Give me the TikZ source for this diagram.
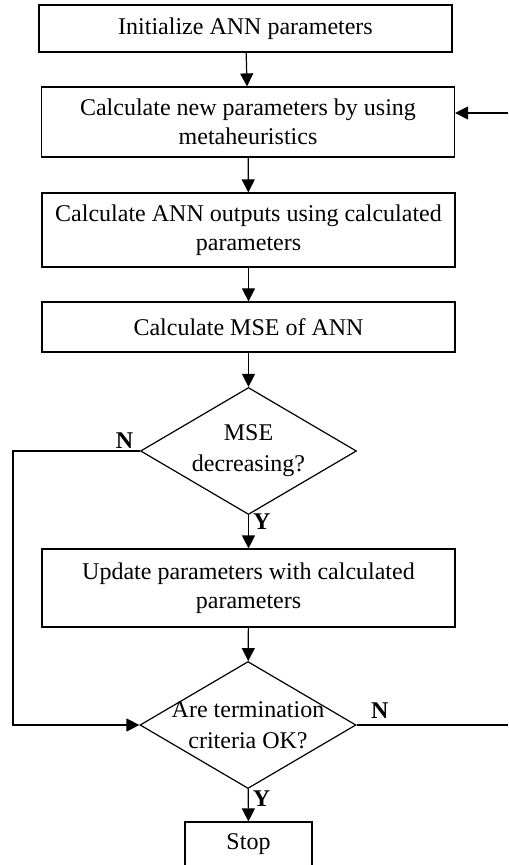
\documentclass[tikz,border=0pt]{standalone}
\usepackage{fontspec}
\setmainfont{Liberation Serif}
\usetikzlibrary{shapes.geometric,arrows.meta}

\tikzset{
	box/.style={draw, line width=0.6pt, align=center, inner sep=0pt,
		font=\fontsize{12}{14.5}\selectfont, minimum width=206.5pt},
	decision/.style={draw, diamond, line width=0.6pt, align=center, aspect=1.7,
		inner xsep=-12pt, inner ysep=-4pt, font=\fontsize{12}{15.5}\selectfont,
		minimum width=108pt, minimum height=63.5pt},
	flow/.style={line width=0.6pt, -{Triangle[length=6.5pt,width=6.5pt]}},
	answer/.style={font=\fontsize{12}{14}\selectfont\bfseries, inner sep=1pt}
}

\begin{document}
\begin{tikzpicture}[x=0.5pt,y=-0.5pt]
		\useasboundingbox (0,0) rectangle (508,865);

		\node[box, minimum height=23.5pt] (Init) at (245.5,28.5) {Initialize ANN parameters};
		\node[box, minimum height=35pt] (NewParams) at (248,122) {Calculate new parameters by using\\metaheuristics};
		\node[box, minimum height=37pt] (Outputs) at (248.5,230) {Calculate ANN outputs using calculated\\parameters};
		\node[box, minimum height=25pt] (Mse) at (248.5,327) {Calculate MSE of ANN};
		\node[decision] (Decreasing) at (248.5,451) {MSE\\decreasing?};
		\node[box, minimum height=39pt] (Update) at (248.5,588) {Update parameters with calculated\\parameters};
		\node[decision] (Termination) at (248,725) {Are termination\\criteria OK?};
		\node[box, minimum width=63.5pt, minimum height=22pt] (Stop) at (248.5,844) {Stop};

		\coordinate (LoopIn) at (508,113);
		\coordinate (LoopOut) at (508,725);
		\coordinate (Bypass) at (13,451);

		\draw[flow] (Init) -- (NewParams);
		\draw[flow] (NewParams) -- (Outputs);
		\draw[flow] (Outputs) -- (Mse);
		\draw[flow] (Mse) -- (Decreasing);
		\draw[flow] (Decreasing) -- node[answer, pos=0.2, right, xshift=1pt] {Y} (Update);
		\draw[flow] (Update) -- (Termination);
		\draw[flow] (Termination) -- node[answer, pos=0.3, right, xshift=1pt] {Y} (Stop);
		\draw[flow] (Decreasing.west) node[answer, above left, xshift=-2pt] {N} -- (Bypass) -- (Bypass |- Termination.west) -- (Termination.west);
		\draw[line width=0.6pt] (Termination.east) node[answer, above right, xshift=6pt, yshift=2pt] {N} -- (LoopOut);
		\draw[flow] (LoopIn) -- (LoopIn -| NewParams.east);
	\end{tikzpicture}
\end{document}
